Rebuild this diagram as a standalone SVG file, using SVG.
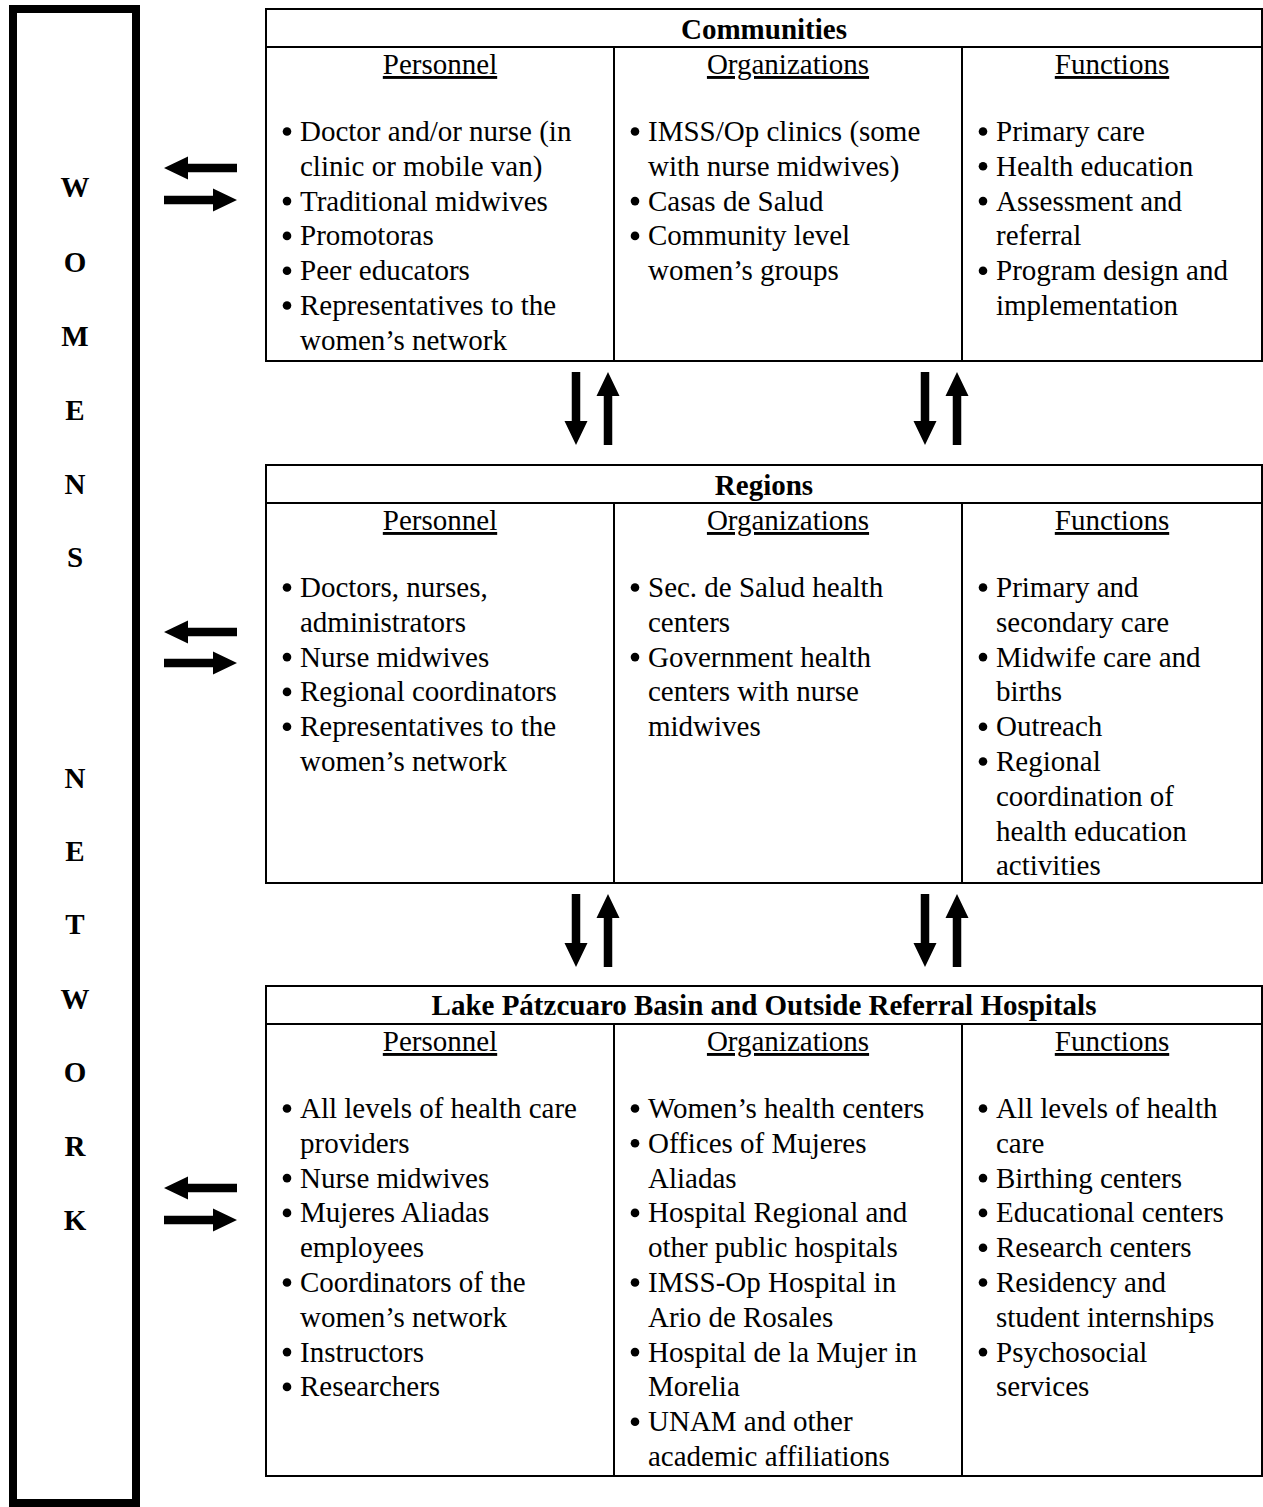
<svg xmlns="http://www.w3.org/2000/svg" width="1263" height="1507" viewBox="0 0 1263 1507">
<style>
.t{font-family:"Liberation Serif","Times New Roman",serif;font-size:29px;fill:#000}
.b{font-weight:bold}
.c{text-anchor:middle}
.u{text-decoration:underline}
.box{fill:#fff;stroke:#000;stroke-width:2}
.ln{stroke:#000;stroke-width:2}
.frame{fill:#fff;stroke:#000;stroke-width:8}
</style>
<defs>
<path id="arr" d="M0,-4.25 H49 V-11.5 L73,0 L49,11.5 V4.25 H0 Z" fill="#000"/>
<circle id="bul" r="4.3" fill="#000"/>
</defs>
<rect width="1263" height="1507" fill="#fff"/>

<g id="womens-network">
<rect class="frame" x="13" y="9" width="123" height="1494"/>
<g class="t b c">
<text x="75" y="197">W</text>
<text x="75" y="272">O</text>
<text x="75" y="346">M</text>
<text x="75" y="420">E</text>
<text x="75" y="494">N</text>
<text x="75" y="567">S</text>
<text x="75" y="788">N</text>
<text x="75" y="861">E</text>
<text x="75" y="934">T</text>
<text x="75" y="1009">W</text>
<text x="75" y="1082">O</text>
<text x="75" y="1156">R</text>
<text x="75" y="1230">K</text>
</g>
</g>

<g id="communities">
<rect class="box" x="266" y="9" width="996" height="352"/>
<line class="ln" x1="266" y1="47" x2="1262" y2="47"/>
<line class="ln" x1="614" y1="47" x2="614" y2="361"/>
<line class="ln" x1="962" y1="47" x2="962" y2="361"/>
<text class="t b c" x="764" y="39">Communities</text>
<text class="t c u" x="440" y="74">Personnel</text>
<text class="t c u" x="788" y="74">Organizations</text>
<text class="t c u" x="1112" y="74">Functions</text>
<use href="#bul" x="287" y="131.5"/><use href="#bul" x="287" y="201.1"/><use href="#bul" x="287" y="235.9"/><use href="#bul" x="287" y="270.7"/><use href="#bul" x="287" y="305.5"/>
<text class="t"><tspan x="300" y="141">Doctor and/or nurse (in</tspan><tspan x="300" y="175.8">clinic or mobile van)</tspan><tspan x="300" y="210.6">Traditional midwives</tspan><tspan x="300" y="245.4">Promotoras</tspan><tspan x="300" y="280.2">Peer educators</tspan><tspan x="300" y="315">Representatives to the</tspan><tspan x="300" y="349.8">women’s network</tspan></text>
<use href="#bul" x="635" y="131.5"/><use href="#bul" x="635" y="201.1"/><use href="#bul" x="635" y="235.9"/>
<text class="t"><tspan x="648" y="141">IMSS/Op clinics (some</tspan><tspan x="648" y="175.8">with nurse midwives)</tspan><tspan x="648" y="210.6">Casas de Salud</tspan><tspan x="648" y="245.4">Community level</tspan><tspan x="648" y="280.2">women’s groups</tspan></text>
<use href="#bul" x="983" y="131.5"/><use href="#bul" x="983" y="166.3"/><use href="#bul" x="983" y="201.1"/><use href="#bul" x="983" y="270.7"/>
<text class="t"><tspan x="996" y="141">Primary care</tspan><tspan x="996" y="175.8">Health education</tspan><tspan x="996" y="210.6">Assessment and</tspan><tspan x="996" y="245.4">referral</tspan><tspan x="996" y="280.2">Program design and</tspan><tspan x="996" y="315">implementation</tspan></text>
</g>

<g id="regions">
<rect class="box" x="266" y="465" width="996" height="418"/>
<line class="ln" x1="266" y1="503" x2="1262" y2="503"/>
<line class="ln" x1="614" y1="503" x2="614" y2="883"/>
<line class="ln" x1="962" y1="503" x2="962" y2="883"/>
<text class="t b c" x="764" y="495">Regions</text>
<text class="t c u" x="440" y="530">Personnel</text>
<text class="t c u" x="788" y="530">Organizations</text>
<text class="t c u" x="1112" y="530">Functions</text>
<use href="#bul" x="287" y="587.5"/><use href="#bul" x="287" y="657.1"/><use href="#bul" x="287" y="691.9"/><use href="#bul" x="287" y="726.7"/>
<text class="t"><tspan x="300" y="597">Doctors, nurses,</tspan><tspan x="300" y="631.8">administrators</tspan><tspan x="300" y="666.6">Nurse midwives</tspan><tspan x="300" y="701.4">Regional coordinators</tspan><tspan x="300" y="736.2">Representatives to the</tspan><tspan x="300" y="771">women’s network</tspan></text>
<use href="#bul" x="635" y="587.5"/><use href="#bul" x="635" y="657.1"/>
<text class="t"><tspan x="648" y="597">Sec. de Salud health</tspan><tspan x="648" y="631.8">centers</tspan><tspan x="648" y="666.6">Government health</tspan><tspan x="648" y="701.4">centers with nurse</tspan><tspan x="648" y="736.2">midwives</tspan></text>
<use href="#bul" x="983" y="587.5"/><use href="#bul" x="983" y="657.1"/><use href="#bul" x="983" y="726.7"/><use href="#bul" x="983" y="761.5"/>
<text class="t"><tspan x="996" y="597">Primary and</tspan><tspan x="996" y="631.8">secondary care</tspan><tspan x="996" y="666.6">Midwife care and</tspan><tspan x="996" y="701.4">births</tspan><tspan x="996" y="736.2">Outreach</tspan><tspan x="996" y="771">Regional</tspan><tspan x="996" y="805.8">coordination of</tspan><tspan x="996" y="840.6">health education</tspan><tspan x="996" y="875.4">activities</tspan></text>
</g>

<g id="lake-patzcuaro">
<rect class="box" x="266" y="986" width="996" height="490"/>
<line class="ln" x1="266" y1="1024" x2="1262" y2="1024"/>
<line class="ln" x1="614" y1="1024" x2="614" y2="1476"/>
<line class="ln" x1="962" y1="1024" x2="962" y2="1476"/>
<text class="t b c" x="764" y="1015">Lake Pátzcuaro Basin and Outside Referral Hospitals</text>
<text class="t c u" x="440" y="1051">Personnel</text>
<text class="t c u" x="788" y="1051">Organizations</text>
<text class="t c u" x="1112" y="1051">Functions</text>
<use href="#bul" x="287" y="1108.5"/><use href="#bul" x="287" y="1178.1"/><use href="#bul" x="287" y="1212.9"/><use href="#bul" x="287" y="1282.5"/><use href="#bul" x="287" y="1352.1"/><use href="#bul" x="287" y="1386.9"/>
<text class="t"><tspan x="300" y="1118">All levels of health care</tspan><tspan x="300" y="1152.8">providers</tspan><tspan x="300" y="1187.6">Nurse midwives</tspan><tspan x="300" y="1222.4">Mujeres Aliadas</tspan><tspan x="300" y="1257.2">employees</tspan><tspan x="300" y="1292">Coordinators of the</tspan><tspan x="300" y="1326.8">women’s network</tspan><tspan x="300" y="1361.6">Instructors</tspan><tspan x="300" y="1396.4">Researchers</tspan></text>
<use href="#bul" x="635" y="1108.5"/><use href="#bul" x="635" y="1143.3"/><use href="#bul" x="635" y="1212.9"/><use href="#bul" x="635" y="1282.5"/><use href="#bul" x="635" y="1352.1"/><use href="#bul" x="635" y="1421.7"/>
<text class="t"><tspan x="648" y="1118">Women’s health centers</tspan><tspan x="648" y="1152.8">Offices of Mujeres</tspan><tspan x="648" y="1187.6">Aliadas</tspan><tspan x="648" y="1222.4">Hospital Regional and</tspan><tspan x="648" y="1257.2">other public hospitals</tspan><tspan x="648" y="1292">IMSS-Op Hospital in</tspan><tspan x="648" y="1326.8">Ario de Rosales</tspan><tspan x="648" y="1361.6">Hospital de la Mujer in</tspan><tspan x="648" y="1396.4">Morelia</tspan><tspan x="648" y="1431.2">UNAM and other</tspan><tspan x="648" y="1466">academic affiliations</tspan></text>
<use href="#bul" x="983" y="1108.5"/><use href="#bul" x="983" y="1178.1"/><use href="#bul" x="983" y="1212.9"/><use href="#bul" x="983" y="1247.7"/><use href="#bul" x="983" y="1282.5"/><use href="#bul" x="983" y="1352.1"/>
<text class="t"><tspan x="996" y="1118">All levels of health</tspan><tspan x="996" y="1152.8">care</tspan><tspan x="996" y="1187.6">Birthing centers</tspan><tspan x="996" y="1222.4">Educational centers</tspan><tspan x="996" y="1257.2">Research centers</tspan><tspan x="996" y="1292">Residency and</tspan><tspan x="996" y="1326.8">student internships</tspan><tspan x="996" y="1361.6">Psychosocial</tspan><tspan x="996" y="1396.4">services</tspan></text>
</g>

<g id="connectors">
<use href="#arr" transform="translate(237,168) rotate(180)"/>
<use href="#arr" transform="translate(164,200)"/>
<use href="#arr" transform="translate(237,632) rotate(180)"/>
<use href="#arr" transform="translate(164,663)"/>
<use href="#arr" transform="translate(237,1188) rotate(180)"/>
<use href="#arr" transform="translate(164,1220)"/>
<use href="#arr" transform="translate(576,372) rotate(90)"/>
<use href="#arr" transform="translate(608,445) rotate(-90)"/>
<use href="#arr" transform="translate(925,372) rotate(90)"/>
<use href="#arr" transform="translate(957,445) rotate(-90)"/>
<use href="#arr" transform="translate(576,894) rotate(90)"/>
<use href="#arr" transform="translate(608,967) rotate(-90)"/>
<use href="#arr" transform="translate(925,894) rotate(90)"/>
<use href="#arr" transform="translate(957,967) rotate(-90)"/>
</g>
</svg>
